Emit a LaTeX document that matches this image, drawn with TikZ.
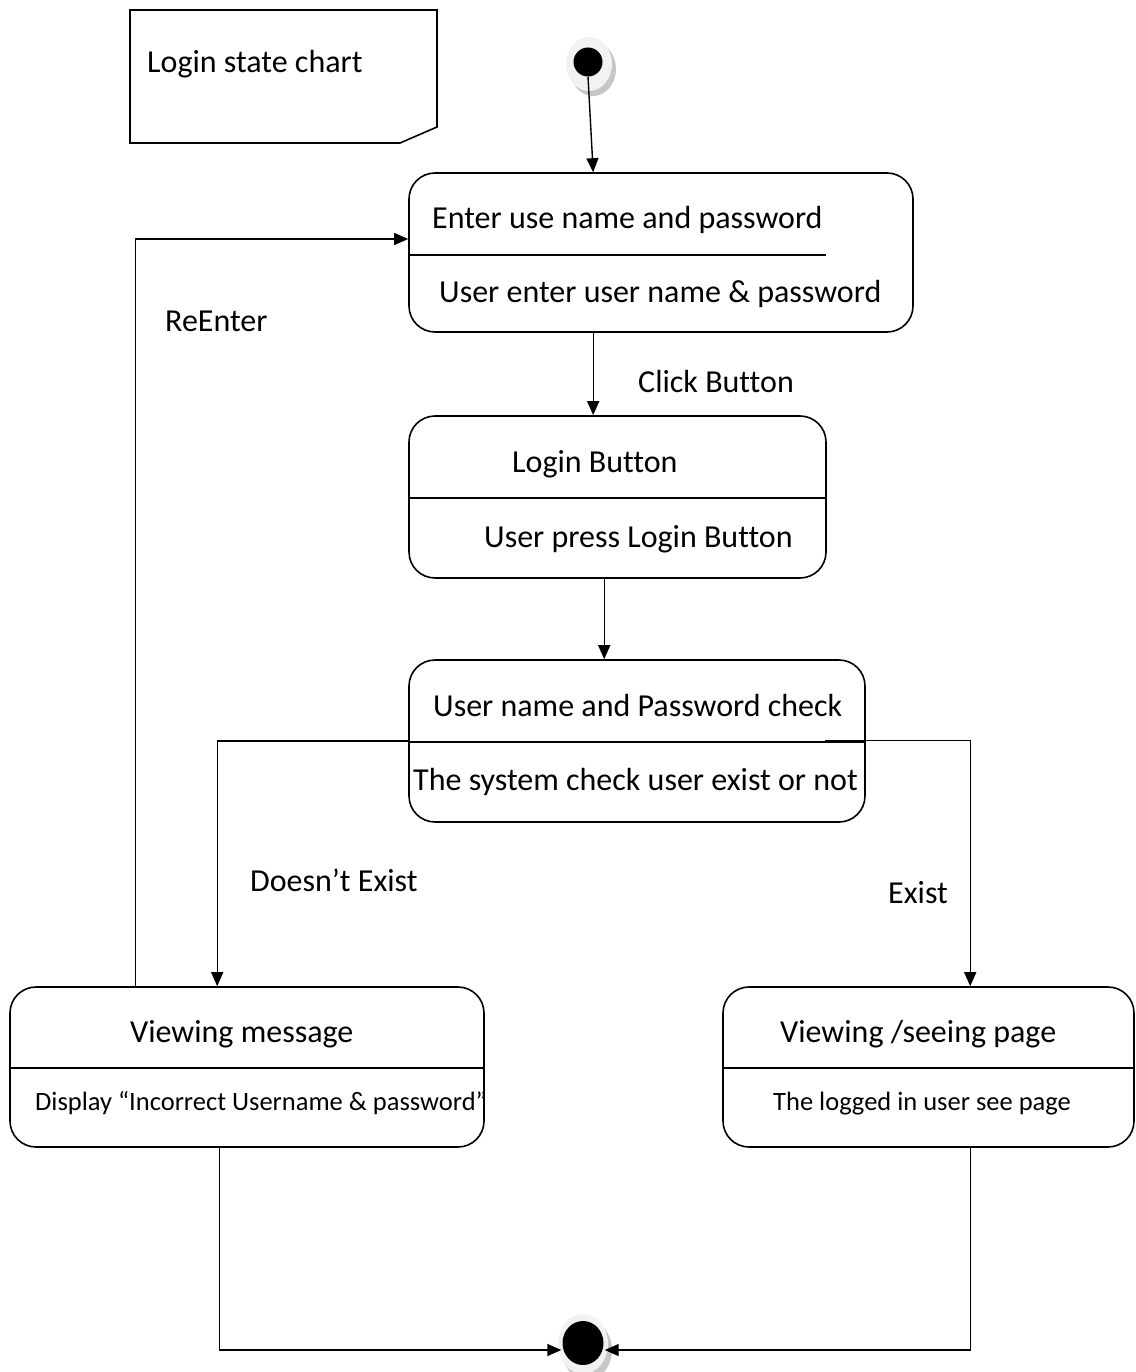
\documentclass[tikz,border=0pt]{standalone}
\usepackage{fontspec}
\setmainfont{Carlito}[Ligatures={NoCommon}]
\usetikzlibrary{arrows.meta,calc,shapes.geometric}
\begin{document}
\begin{tikzpicture}[x=1pt,y=-1pt,
  statebox/.style={draw,line width=1.6pt,rounded corners=26pt,minimum width=#1,inner sep=0pt},
  divider/.style={line width=1.6pt},
  big/.style={inner sep=0pt,anchor=west,font=\fontsize{32}{38}\selectfont,text height=0.7em,text depth=0.2em,yshift=-8pt},
  small/.style={inner sep=0pt,anchor=west,font=\fontsize{26.5}{31}\selectfont,text height=0.7em,text depth=0.2em,yshift=-7pt},
  arr/.style={line width=1.4pt,-{Triangle[length=14pt,width=12pt]}},
  conn/.style={line width=1.4pt}
]
\useasboundingbox (0,0) rectangle (1135,1372);
\fill[white] (0,0) rectangle (1135,1372);

% note
\draw[line width=1.6pt] (130,10) -- (437,10) -- (437,127) -- (400,143) -- (130,143) -- cycle;
\node[big] (notetext) at (147,62) {Login state chart};

% start
\fill[gray!45] (593,69) ellipse [x radius=23pt, y radius=27pt];
\fill[gray!10] (589,64) ellipse [x radius=23pt, y radius=27pt];
\node[circle,fill=black,minimum size=29pt,inner sep=0pt] (start) at (588,62) {};

% end
\fill[gray!45] (587,1350) ellipse [x radius=25pt, y radius=30pt];
\fill[gray!10] (583,1344) ellipse [x radius=25pt, y radius=30pt];
\node[ellipse,fill=black,minimum width=41pt,minimum height=44pt,inner sep=0pt] (end) at (583,1343) {};

% boxes
\node[statebox=504pt,minimum height=159pt] (b1) at (661,252.5) {};
\node[statebox=417pt,minimum height=162pt] (b2) at (617.5,497) {};
\node[statebox=456pt,minimum height=162pt] (b3) at (637,741) {};
\node[statebox=474pt,minimum height=160pt] (b4) at (247,1067) {};
\node[statebox=411pt,minimum height=160pt] (b5) at (928.5,1067) {};

% dividers
\draw[divider] (409,255) -- (826,255);
\draw[divider] (b2.west |- 0,498) -- (b2.east |- 0,498);
\draw[divider] (b3.west |- 0,742) -- (b3.east |- 0,742);
\draw[divider] (b4.west |- 0,1068) -- (b4.east |- 0,1068);
\draw[divider] (b5.west |- 0,1068) -- (b5.east |- 0,1068);

% texts
\node[big] (t1a) at (432,218) {Enter use name and password};
\node[big] (t1b) at (439,292) {User enter user name \& password};
\node[big] (t2a) at (512,462) {Login Button};
\node[big] (t2b) at (484,537) {User press Login Button};
\node[big] (t3a) at (433,706) {User name and Password check};
\node[big] (t3b) at (413,780) {The system check user exist or not};
\node[big] (t4a) at (130,1032) {Viewing message};
\node[small] (t4b) at (35,1101) {Display “Incorrect Username \& password”};
\node[big] (t5a) at (780,1032) {Viewing /seeing page};
\node[small] (t5b) at (773,1101) {The logged in user see page};

% labels
\node[big] (lclick) at (638,382) {Click Button};
\node[big] (lre) at (165,321) {ReEnter};
\node[big] (ldoes) at (250,881) {Doesn’t Exist};
\node[big] (lex) at (888,893) {Exist};

% connectors
\draw[arr] (start.south) -- ($(b1.north west)+(185,0)$);
\draw[arr] ($(b1.south west)+(185,0)$) -- ($(b2.north west)+(185,0)$);
\draw[arr] ($(b2.south west)+(196,0)$) -- ($(b3.north west)+(196,0)$);
\draw[arr] (b3.west) -| ($(b4.north west)+(208,0)$);
\draw[arr] ($(b3.north west)+(417,81)$) -| ($(b5.north west)+(248,0)$);
\draw[arr] ($(b4.north west)+(126,0)$) |- ($(b1.west)+(0,-13.5)$);
\draw[arr] ($(b4.south west)+(210,0)$) |- ($(end.west)+(-1,7)$);
\draw[arr] ($(b5.south west)+(248,0)$) |- ($(end.east)+(1,7)$);
\end{tikzpicture}
\end{document}
